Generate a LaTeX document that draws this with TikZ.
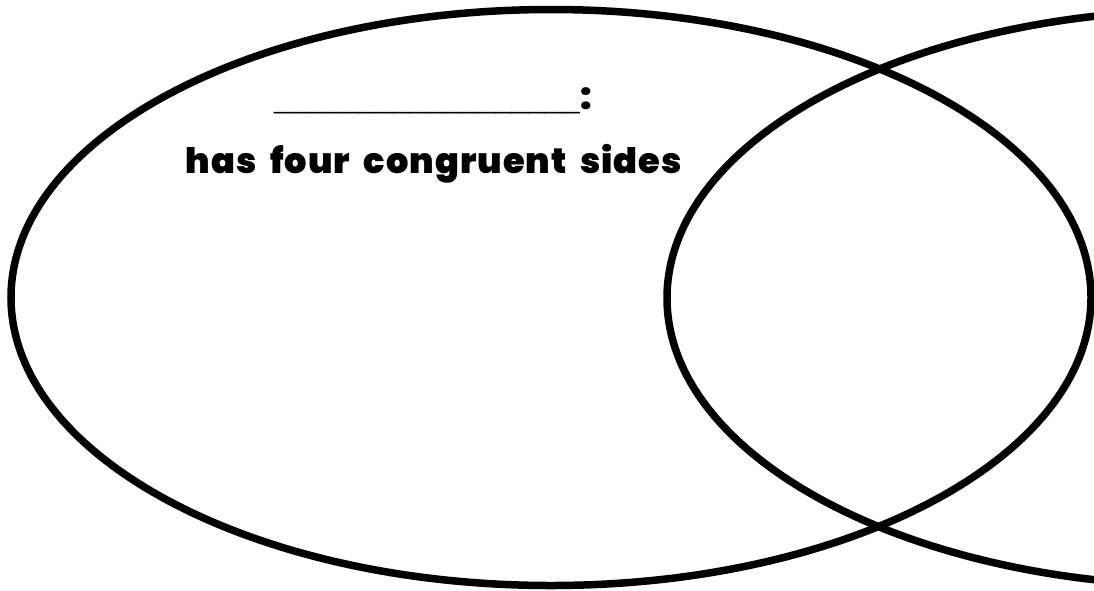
\documentclass[tikz,border=0pt]{standalone}
\usepackage{fontspec}
\usepackage{graphicx}
\setmainfont{Poppins}[UprightFont=* Black]
\newfontfamily\linefont{Liberation Sans}[UprightFont=* Bold, FakeBold=1.5]
\begin{document}
\begin{tikzpicture}[x=1pt,y=-1pt,
  ring/.style={draw=black,line width=7.5pt},
  lbl/.style={inner sep=0pt}]
\useasboundingbox (0,0) rectangle (1094,590);
\begin{scope}
\clip (0,0) rectangle (1094,590);
\draw[ring] (551,297.5) ellipse [x radius=540, y radius=288];
\draw[ring] (1207,298) ellipse [x radius=540, y radius=288];
\end{scope}
\node[lbl,anchor=base] (title) at (433,109.5)
  {{\linefont\fontsize{30.5}{36}\selectfont\_\_\_\_\_\_\_\_\_\_\_\_\_\_\_\_\_\_}{\fontsize{36}{40}\selectfont\kern1pt:}};
\node[lbl,anchor=base] (desc) at (434,173)
  {\resizebox{496pt}{!}{\fontsize{26}{32}\selectfont\addfontfeature{LetterSpace=3}\spaceskip=0.38em has four congruent sides}};
\end{tikzpicture}
\end{document}
